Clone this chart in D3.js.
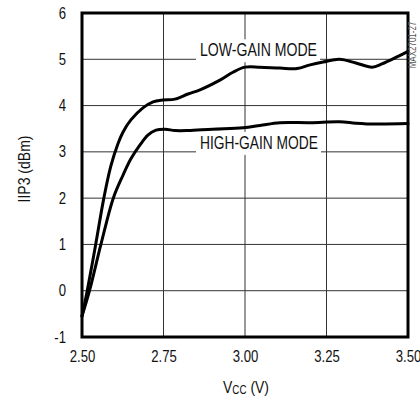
<!DOCTYPE html>
<html>
<head>
<meta charset="utf-8">
<script src="https://cdn.jsdelivr.net/npm/d3@7"></script>
<style>
  html, body { margin: 0; padding: 0; background: #fff; }
  svg { display: block; }
  text { font-family: "Liberation Sans", Arial, Helvetica, sans-serif; fill: #111; }
</style>
</head>
<body>
<svg id="chart" width="420" height="398"></svg>
<script>
// ---- data ----
const xTicks = [2.50, 2.75, 3.00, 3.25, 3.50];
const yTicks = [-1, 0, 1, 2, 3, 4, 5, 6];
const lowGainVcc  = [2.500, 2.516, 2.542, 2.567, 2.588, 2.610, 2.626, 2.650, 2.687, 2.718, 2.748, 2.785, 2.825, 2.862, 2.923, 2.963, 3.000, 3.046, 3.107, 3.160, 3.200, 3.240, 3.290, 3.340, 3.390, 3.420, 3.466, 3.500];
const lowGainIIP3 = [-0.55, 0.00, 1.00, 2.00, 2.68, 3.17, 3.43, 3.69, 3.95, 4.08, 4.12, 4.14, 4.25, 4.34, 4.55, 4.72, 4.83, 4.83, 4.81, 4.80, 4.88, 4.94, 5.00, 4.92, 4.83, 4.90, 5.05, 5.17];
const highGainVcc  = [2.500, 2.523, 2.558, 2.596, 2.626, 2.650, 2.678, 2.702, 2.727, 2.755, 2.785, 2.825, 2.900, 2.994, 3.046, 3.107, 3.200, 3.290, 3.340, 3.400, 3.500];
const highGainIIP3 = [-0.55, 0.00, 1.00, 2.00, 2.50, 2.85, 3.15, 3.36, 3.47, 3.49, 3.46, 3.46, 3.49, 3.52, 3.57, 3.63, 3.63, 3.65, 3.62, 3.60, 3.61];
const seriesLabels = ["LOW-GAIN MODE", "HIGH-GAIN MODE"];
const yTitle = "IIP3 (dBm)";
const note = "MAX2701-27";

// ---- layout ----
const L = 82, R = 408, T = 13, B = 337;
const svg = d3.select("#chart");
const x = d3.scaleLinear().domain([2.5, 3.5]).range([L, R]);
const y = d3.scaleLinear().domain([-1, 6]).range([B, T]);

function narrow(sel, f) {
  sel.each(function () {
    const w = this.getComputedTextLength();
    d3.select(this).attr("textLength", w * f).attr("lengthAdjust", "spacingAndGlyphs");
  });
}

// horizontal gridlines
svg.append("g").selectAll("line").data(yTicks.filter(d => d > -1 && d < 6)).join("line")
  .attr("x1", L).attr("x2", R).attr("y1", d => y(d)).attr("y2", d => y(d))
  .attr("stroke", "#333").attr("stroke-width", 1);
// vertical gridlines
svg.append("g").selectAll("line").data(xTicks.filter(d => d > 2.5 && d < 3.5)).join("line")
  .attr("y1", T).attr("y2", B).attr("x1", d => x(d)).attr("x2", d => x(d))
  .attr("stroke", "#333").attr("stroke-width", 1);

// label backgrounds (break gridlines)
const labelPos = [{v: 5, label: seriesLabels[0], w: 117}, {v: 3, label: seriesLabels[1], w: 118}];
svg.append("g").selectAll("rect").data(labelPos).join("rect")
  .attr("x", 196).attr("width", d => d.w + 7)
  .attr("y", d => y(d.v) - 20).attr("height", 23)
  .attr("fill", "#fff");
svg.append("g").selectAll("text").data(labelPos).join("text")
  .attr("x", 200).attr("y", d => y(d.v) - 3)
  .attr("font-size", 18.5)
  .attr("textLength", d => d.w).attr("lengthAdjust", "spacingAndGlyphs")
  .text(d => d.label);

// curves
const line = d3.line().x(d => x(d[0])).y(d => y(d[1])).curve(d3.curveCatmullRom.alpha(0.5));
const lowData = lowGainVcc.map((v, i) => [v, lowGainIIP3[i]]);
const highData = highGainVcc.map((v, i) => [v, highGainIIP3[i]]);
svg.append("g").selectAll("path").data([lowData, highData]).join("path")
  .attr("d", line).attr("fill", "none").attr("stroke", "#000")
  .attr("stroke-width", 3).attr("stroke-linejoin", "round").attr("stroke-linecap", "round");

// frame
svg.append("rect").attr("x", L).attr("y", T).attr("width", R - L).attr("height", B - T)
  .attr("fill", "none").attr("stroke", "#000").attr("stroke-width", 3);

// axes
const yAxis = svg.append("g").attr("transform", `translate(${L - 16},0)`)
  .call(d3.axisLeft(y).tickValues(yTicks).tickSize(0).tickPadding(0).tickFormat(d => String(d)));
yAxis.select(".domain").remove();
yAxis.selectAll("text").attr("font-size", 16).attr("fill", "#111")
  .attr("font-family", '"Liberation Sans", Arial, sans-serif').call(narrow, 0.82);

const xAxis = svg.append("g").attr("transform", `translate(0,${B + 14})`)
  .call(d3.axisBottom(x).tickValues(xTicks).tickSize(0).tickPadding(0).tickFormat(d3.format(".2f")));
xAxis.select(".domain").remove();
xAxis.selectAll("text").attr("font-size", 16).attr("fill", "#111")
  .attr("font-family", '"Liberation Sans", Arial, sans-serif').call(narrow, 0.82);

// x title (condensed via horizontal scale)
const xt = svg.append("g").attr("transform", "translate(246,393) scale(0.82,1)")
  .append("text").attr("text-anchor", "middle").attr("font-size", 17);
xt.append("tspan").text("V");
xt.append("tspan").attr("font-size", 12).attr("dy", 1).text("CC");
xt.append("tspan").attr("dy", -1).text(" (V)");

// y title
const ytt = svg.append("text").attr("transform", `translate(30,${(T + B) / 2 - 6}) rotate(-90)`)
  .attr("text-anchor", "middle").attr("font-size", 16.5).text(yTitle);
narrow(ytt, 0.85);

// note
const nt = svg.append("text").attr("transform", "translate(416,45) rotate(-90)")
  .attr("text-anchor", "middle").attr("font-size", 10).style("fill", "#555").text(note);
narrow(nt, 0.8);
</script>
</body>
</html>
